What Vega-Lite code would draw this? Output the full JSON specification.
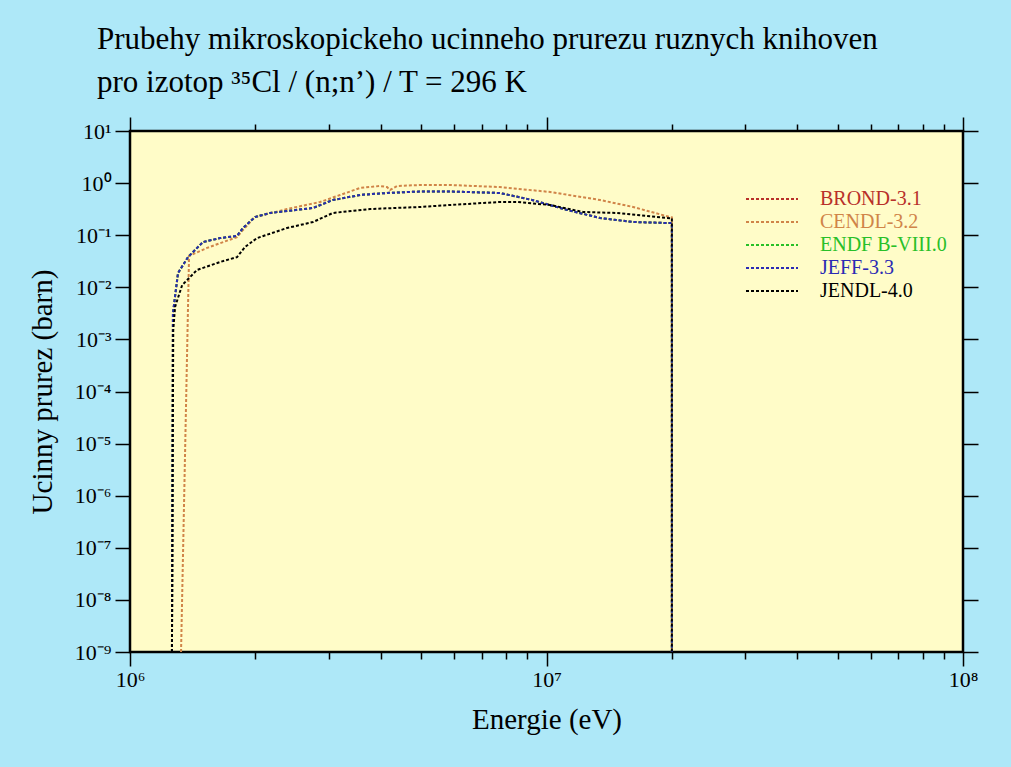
{
  "$schema": "https://vega.github.io/schema/vega-lite/v6.json",
  "autosize": "none",
  "width": 833,
  "height": 521,
  "padding": {"left": 130, "top": 131, "right": 48, "bottom": 115},
  "background": "#aee8f8",
  "config": {
    "view": {"fill": "#fffcc8", "stroke": "#000000", "strokeWidth": 2.5},
    "font": "Liberation Serif",
    "axis": {"domain": false, "grid": false, "tickColor": "#000000", "tickWidth": 1.5, "labelColor": "#000000", "titleColor": "#000000", "labelFont": "Liberation Serif", "titleFont": "Liberation Serif", "labelFontSize": 22, "titleFontSize": 29, "titleFontWeight": "normal", "labelOverlap": false, "labelFlush": false, "labelBound": false}
  },
  "title": {
    "text": ["Prubehy mikroskopickeho ucinneho prurezu ruznych knihoven", "pro izotop ³⁵Cl / (n;n’) / T = 296 K"],
    "anchor": "start",
    "frame": "group",
    "dx": -33,
    "offset": 17,
    "fontSize": 31,
    "lineHeight": 43,
    "font": "Liberation Serif",
    "fontWeight": "normal",
    "color": "#000000"
  },
  "datasets": {
    "xs": [
      {"lib": "BROND-3.1", "E": 1261000, "xs": 1e-9},
      {"lib": "BROND-3.1", "E": 1268000, "xs": 0.0032},
      {"lib": "BROND-3.1", "E": 1304000, "xs": 0.0188},
      {"lib": "BROND-3.1", "E": 1378000, "xs": 0.038},
      {"lib": "BROND-3.1", "E": 1497000, "xs": 0.074},
      {"lib": "BROND-3.1", "E": 1645000, "xs": 0.088},
      {"lib": "BROND-3.1", "E": 1807000, "xs": 0.097},
      {"lib": "BROND-3.1", "E": 1867000, "xs": 0.137},
      {"lib": "BROND-3.1", "E": 1995000, "xs": 0.223},
      {"lib": "BROND-3.1", "E": 2168000, "xs": 0.267},
      {"lib": "BROND-3.1", "E": 2750000, "xs": 0.333},
      {"lib": "BROND-3.1", "E": 3070000, "xs": 0.474},
      {"lib": "BROND-3.1", "E": 3570000, "xs": 0.592},
      {"lib": "BROND-3.1", "E": 4140000, "xs": 0.646},
      {"lib": "BROND-3.1", "E": 4970000, "xs": 0.69},
      {"lib": "BROND-3.1", "E": 5870000, "xs": 0.69},
      {"lib": "BROND-3.1", "E": 7730000, "xs": 0.646},
      {"lib": "BROND-3.1", "E": 9280000, "xs": 0.47},
      {"lib": "BROND-3.1", "E": 11200000, "xs": 0.305},
      {"lib": "BROND-3.1", "E": 13450000, "xs": 0.214},
      {"lib": "BROND-3.1", "E": 16140000, "xs": 0.179},
      {"lib": "BROND-3.1", "E": 19800000, "xs": 0.171},
      {"lib": "BROND-3.1", "E": 20000000, "xs": 0.171},
      {"lib": "BROND-3.1", "E": 20000000, "xs": 1e-9},
      {"lib": "CENDL-3.2", "E": 1326000, "xs": 1e-9},
      {"lib": "CENDL-3.2", "E": 1386000, "xs": 0.04},
      {"lib": "CENDL-3.2", "E": 1531000, "xs": 0.057},
      {"lib": "CENDL-3.2", "E": 1807000, "xs": 0.092},
      {"lib": "CENDL-3.2", "E": 1867000, "xs": 0.126},
      {"lib": "CENDL-3.2", "E": 1995000, "xs": 0.223},
      {"lib": "CENDL-3.2", "E": 2382000, "xs": 0.318},
      {"lib": "CENDL-3.2", "E": 2858000, "xs": 0.433},
      {"lib": "CENDL-3.2", "E": 3193000, "xs": 0.59},
      {"lib": "CENDL-3.2", "E": 3566000, "xs": 0.806},
      {"lib": "CENDL-3.2", "E": 3984000, "xs": 0.88},
      {"lib": "CENDL-3.2", "E": 4140000, "xs": 0.84},
      {"lib": "CENDL-3.2", "E": 4210000, "xs": 0.74},
      {"lib": "CENDL-3.2", "E": 4376000, "xs": 0.88},
      {"lib": "CENDL-3.2", "E": 4970000, "xs": 0.92},
      {"lib": "CENDL-3.2", "E": 5870000, "xs": 0.92},
      {"lib": "CENDL-3.2", "E": 7730000, "xs": 0.84},
      {"lib": "CENDL-3.2", "E": 10200000, "xs": 0.675},
      {"lib": "CENDL-3.2", "E": 13450000, "xs": 0.474},
      {"lib": "CENDL-3.2", "E": 16140000, "xs": 0.348},
      {"lib": "CENDL-3.2", "E": 19800000, "xs": 0.223},
      {"lib": "CENDL-3.2", "E": 20000000, "xs": 0.22},
      {"lib": "CENDL-3.2", "E": 20000000, "xs": 1e-9},
      {"lib": "ENDF B-VIII.0", "E": 1261000, "xs": 1e-9},
      {"lib": "ENDF B-VIII.0", "E": 1268000, "xs": 0.0032},
      {"lib": "ENDF B-VIII.0", "E": 1304000, "xs": 0.0188},
      {"lib": "ENDF B-VIII.0", "E": 1378000, "xs": 0.038},
      {"lib": "ENDF B-VIII.0", "E": 1497000, "xs": 0.074},
      {"lib": "ENDF B-VIII.0", "E": 1645000, "xs": 0.088},
      {"lib": "ENDF B-VIII.0", "E": 1807000, "xs": 0.097},
      {"lib": "ENDF B-VIII.0", "E": 1867000, "xs": 0.137},
      {"lib": "ENDF B-VIII.0", "E": 1995000, "xs": 0.223},
      {"lib": "ENDF B-VIII.0", "E": 2168000, "xs": 0.267},
      {"lib": "ENDF B-VIII.0", "E": 2750000, "xs": 0.333},
      {"lib": "ENDF B-VIII.0", "E": 3070000, "xs": 0.474},
      {"lib": "ENDF B-VIII.0", "E": 3570000, "xs": 0.592},
      {"lib": "ENDF B-VIII.0", "E": 4140000, "xs": 0.646},
      {"lib": "ENDF B-VIII.0", "E": 4970000, "xs": 0.69},
      {"lib": "ENDF B-VIII.0", "E": 5870000, "xs": 0.69},
      {"lib": "ENDF B-VIII.0", "E": 7730000, "xs": 0.646},
      {"lib": "ENDF B-VIII.0", "E": 9280000, "xs": 0.47},
      {"lib": "ENDF B-VIII.0", "E": 11200000, "xs": 0.305},
      {"lib": "ENDF B-VIII.0", "E": 13450000, "xs": 0.214},
      {"lib": "ENDF B-VIII.0", "E": 16140000, "xs": 0.179},
      {"lib": "ENDF B-VIII.0", "E": 19800000, "xs": 0.171},
      {"lib": "ENDF B-VIII.0", "E": 20000000, "xs": 0.171},
      {"lib": "ENDF B-VIII.0", "E": 20000000, "xs": 1e-9},
      {"lib": "JEFF-3.3", "E": 1261000, "xs": 1e-9},
      {"lib": "JEFF-3.3", "E": 1268000, "xs": 0.0032},
      {"lib": "JEFF-3.3", "E": 1304000, "xs": 0.0188},
      {"lib": "JEFF-3.3", "E": 1378000, "xs": 0.038},
      {"lib": "JEFF-3.3", "E": 1497000, "xs": 0.074},
      {"lib": "JEFF-3.3", "E": 1645000, "xs": 0.088},
      {"lib": "JEFF-3.3", "E": 1807000, "xs": 0.097},
      {"lib": "JEFF-3.3", "E": 1867000, "xs": 0.137},
      {"lib": "JEFF-3.3", "E": 1995000, "xs": 0.223},
      {"lib": "JEFF-3.3", "E": 2168000, "xs": 0.267},
      {"lib": "JEFF-3.3", "E": 2750000, "xs": 0.333},
      {"lib": "JEFF-3.3", "E": 3070000, "xs": 0.474},
      {"lib": "JEFF-3.3", "E": 3570000, "xs": 0.592},
      {"lib": "JEFF-3.3", "E": 4140000, "xs": 0.646},
      {"lib": "JEFF-3.3", "E": 4970000, "xs": 0.69},
      {"lib": "JEFF-3.3", "E": 5870000, "xs": 0.69},
      {"lib": "JEFF-3.3", "E": 7730000, "xs": 0.646},
      {"lib": "JEFF-3.3", "E": 9280000, "xs": 0.47},
      {"lib": "JEFF-3.3", "E": 11200000, "xs": 0.305},
      {"lib": "JEFF-3.3", "E": 13450000, "xs": 0.214},
      {"lib": "JEFF-3.3", "E": 16140000, "xs": 0.179},
      {"lib": "JEFF-3.3", "E": 19800000, "xs": 0.171},
      {"lib": "JEFF-3.3", "E": 20000000, "xs": 0.171},
      {"lib": "JEFF-3.3", "E": 20000000, "xs": 1e-9},
      {"lib": "JENDL-4.0", "E": 1261000, "xs": 1e-9},
      {"lib": "JENDL-4.0", "E": 1270000, "xs": 0.0015},
      {"lib": "JENDL-4.0", "E": 1283000, "xs": 0.0042},
      {"lib": "JENDL-4.0", "E": 1334000, "xs": 0.011},
      {"lib": "JENDL-4.0", "E": 1448000, "xs": 0.0215},
      {"lib": "JENDL-4.0", "E": 1645000, "xs": 0.0306},
      {"lib": "JENDL-4.0", "E": 1807000, "xs": 0.038},
      {"lib": "JENDL-4.0", "E": 1889000, "xs": 0.0594},
      {"lib": "JENDL-4.0", "E": 2018000, "xs": 0.088},
      {"lib": "JENDL-4.0", "E": 2380000, "xs": 0.137},
      {"lib": "JENDL-4.0", "E": 2750000, "xs": 0.179},
      {"lib": "JENDL-4.0", "E": 3070000, "xs": 0.267},
      {"lib": "JENDL-4.0", "E": 3770000, "xs": 0.318},
      {"lib": "JENDL-4.0", "E": 4970000, "xs": 0.348},
      {"lib": "JENDL-4.0", "E": 5870000, "xs": 0.38},
      {"lib": "JENDL-4.0", "E": 7730000, "xs": 0.434},
      {"lib": "JENDL-4.0", "E": 8500000, "xs": 0.434},
      {"lib": "JENDL-4.0", "E": 10200000, "xs": 0.38},
      {"lib": "JENDL-4.0", "E": 12240000, "xs": 0.279},
      {"lib": "JENDL-4.0", "E": 14760000, "xs": 0.267},
      {"lib": "JENDL-4.0", "E": 19460000, "xs": 0.214},
      {"lib": "JENDL-4.0", "E": 20000000, "xs": 0.21},
      {"lib": "JENDL-4.0", "E": 20000000, "xs": 1e-9}
    ]
  },
  "data": {"name": "xs"},
  "resolve": {"axis": {"x": "independent", "y": "independent"}},
  "layer": [
    {
      "mark": {"type": "line", "strokeWidth": 2, "strokeDash": [3, 2], "clip": true},
      "encoding": {
        "x": {
          "field": "E", "type": "quantitative",
          "scale": {"type": "log", "domain": [1000000, 100000000], "nice": false},
          "axis": {
            "orient": "bottom",
            "title": "Energie (eV)",
            "titlePadding": 15,
            "labelFontSize": 22,
            "values": [1000000, 2000000, 3000000, 4000000, 5000000, 6000000, 7000000, 8000000, 9000000, 10000000, 20000000, 30000000, 40000000, 50000000, 60000000, 70000000, 80000000, 90000000, 100000000],
            "tickSize": {"condition": {"test": "abs(log(datum.value)/LN10 - round(log(datum.value)/LN10)) < 0.000001", "value": 14}, "value": 7},
            "labelPadding": 3,
            "labelExpr": "abs(log(datum.value)/LN10 - round(log(datum.value)/LN10)) < 0.000001 ? ['10⁶','10⁷','10⁸'][round(log(datum.value)/LN10) - 6] : ''"
          }
        },
        "y": {
          "field": "xs", "type": "quantitative",
          "scale": {"type": "log", "domain": [1e-9, 10], "nice": false},
          "axis": {
            "orient": "left",
            "title": "Ucinny prurez (barn)",
            "titlePadding": 17,
            "labelFontSize": 22,
            "values": [1e-9, 1e-8, 1e-7, 1e-6, 1e-5, 1e-4, 0.001, 0.01, 0.1, 1, 10],
            "tickSize": 15,
            "labelPadding": 4,
            "labelExpr": "['10⁻⁹','10⁻⁸','10⁻⁷','10⁻⁶','10⁻⁵','10⁻⁴','10⁻³','10⁻²','10⁻¹','10⁰','10¹'][round(log(datum.value)/LN10) + 9]"
          }
        },
        "color": {
          "field": "lib", "type": "nominal",
          "scale": {"domain": ["BROND-3.1", "CENDL-3.2", "ENDF B-VIII.0", "JEFF-3.3", "JENDL-4.0"], "range": ["#b8302a", "#d08448", "#28c028", "#2a2ab4", "#000000"]},
          "legend": {
            "orient": "none",
            "legendX": 631,
            "legendY": 57,
            "title": null,
            "padding": 0,
            "symbolType": "M-2.6,0H2.6",
            "symbolSize": 400,
            "symbolStrokeWidth": 2,
            "symbolDash": [3, 2],
            "labelFont": "Liberation Serif",
            "labelFontSize": 20,
            "labelOffset": 37,
            "rowPadding": 2,
            "labelLimit": 300,
            "encode": {"labels": {"update": {"fill": {"scale": "color", "field": "value"}}}}
          }
        }
      }
    },
    {
      "mark": {"type": "point", "opacity": 0},
      "encoding": {
        "x": {
          "field": "E", "type": "quantitative",
          "axis": {
            "orient": "top",
            "title": null,
            "labels": false,
            "values": [1000000, 2000000, 3000000, 4000000, 5000000, 6000000, 7000000, 8000000, 9000000, 10000000, 20000000, 30000000, 40000000, 50000000, 60000000, 70000000, 80000000, 90000000, 100000000],
            "tickSize": {"condition": {"test": "abs(log(datum.value)/LN10 - round(log(datum.value)/LN10)) < 0.000001", "value": 14}, "value": 7}
          }
        },
        "y": {
          "field": "xs", "type": "quantitative",
          "axis": {
            "orient": "right",
            "title": null,
            "labels": false,
            "values": [1e-9, 1e-8, 1e-7, 1e-6, 1e-5, 1e-4, 0.001, 0.01, 0.1, 1, 10],
            "tickSize": 15
          }
        }
      }
    }
  ]
}
